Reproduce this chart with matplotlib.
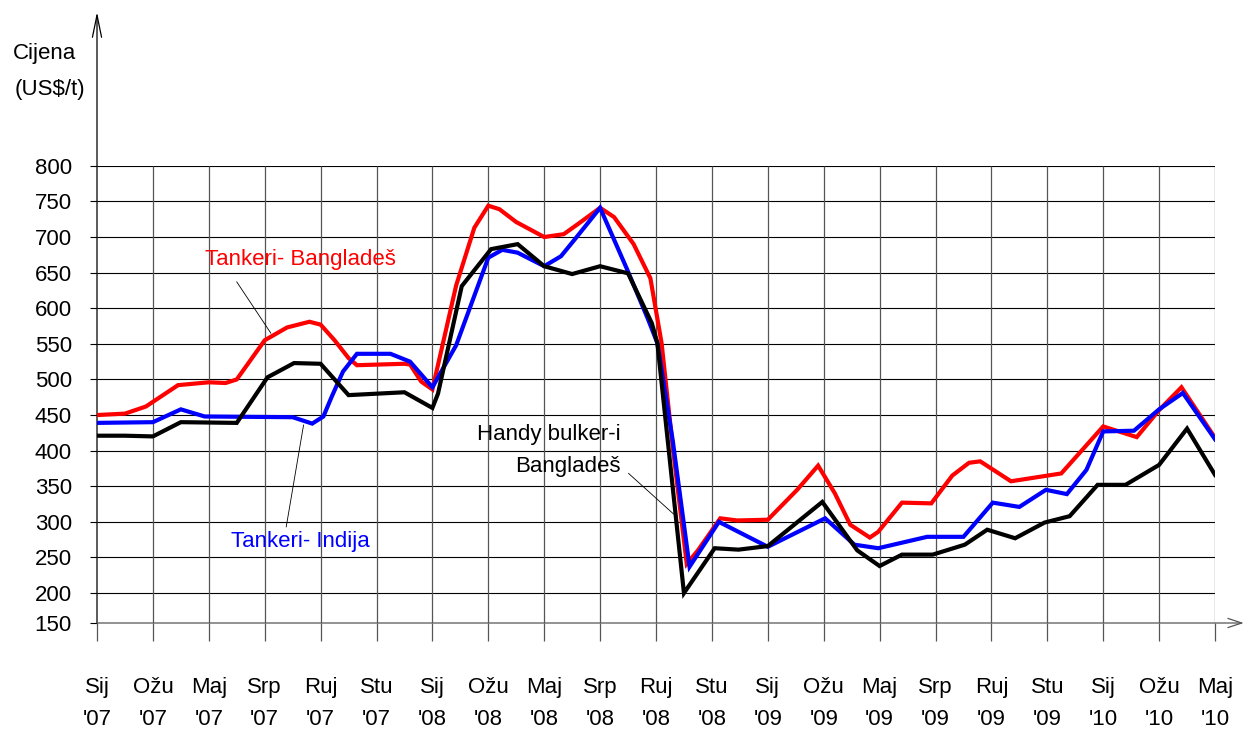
import matplotlib
matplotlib.use("Agg")
import matplotlib.pyplot as plt

plt.rcParams['font.family'] = ['Liberation Sans', 'DejaVu Sans']

# ---------------------------------------------------------------------------
# Data (x = months since Jan 2007, values in US$/t)
# ---------------------------------------------------------------------------
red_x = [0, 1, 1.75, 2.9, 4, 4.6, 5, 6, 6.8, 7.6, 8, 8.5, 9, 9.3, 11, 11.2, 11.6,
         12, 12.85, 13.5, 14, 14.4, 15, 16, 16.7, 17.2, 18, 18.5, 19.2, 19.8,
         20.2, 20.6, 21.1, 21.5, 22.3, 22.9, 24, 25.05, 25.8, 26.4, 26.95, 27.65,
         27.95, 28.8, 29.85, 30.6, 31.2, 31.6, 32.7, 34.5, 36, 37.2, 38, 38.8, 40]
red_y = [450, 452, 462, 492, 496, 495, 500, 555, 573, 581, 577, 555, 530, 520, 522, 521, 497,
         486, 632, 713, 744, 739, 721, 700, 704, 718, 741, 728, 690, 642,
         551, 405, 241, 260, 305, 302, 303, 345, 379, 340, 296, 278,
         286, 327, 326, 365, 383, 385, 357, 368, 434, 419, 457, 489, 418]

blue_x = [0, 2, 3, 3.85, 7, 7.7, 8.1, 8.4, 8.8, 9.3, 10.5, 11.2, 12, 12.85, 14,
          14.5, 15.05, 16, 16.6, 17.1, 18, 18.95, 19.7, 20.05, 20.6, 21.2, 22.25,
          24, 26.05, 27.1, 27.95, 29.7, 31, 32.05, 33, 33.95, 34.7, 35.4, 36,
          37.1, 38, 38.85, 40]
blue_y = [439, 440, 458, 448, 447, 438, 448, 476, 511, 536, 536, 525, 489, 548, 671,
          682, 678, 659, 673, 697, 741, 656, 586, 551, 414, 237, 300,
          265, 305, 268, 263, 279, 279, 327, 321, 345, 339, 373, 427,
          428, 458, 481, 416]

black_x = [0, 1, 2, 3, 5, 6.1, 7.05, 8, 9, 11, 12, 12.2, 13.05, 14.1, 15.05, 16,
           17, 18, 19, 19.85, 20.05, 21, 22.1, 22.95, 24, 25.95, 27.2, 28, 28.8,
           29.9, 31.05, 31.85, 32.85, 33.9, 34.8, 35.8, 36.8, 38, 39, 40]
black_y = [421, 421, 420, 440, 439, 503, 523, 522, 478, 482, 460, 480, 631, 683, 690, 659,
           648, 659, 649, 579, 551, 200, 263, 261, 266, 328, 260, 238, 254,
           254, 268, 289, 277, 299, 308, 352, 352, 380, 431, 366]

month_ticks = list(range(0, 41, 2))
month_names = ['Sij', 'Ožu', 'Maj', 'Srp', 'Ruj', 'Stu', 'Sij', 'Ožu', 'Maj', 'Srp', 'Ruj',
               'Stu', 'Sij', 'Ožu', 'Maj', 'Srp', 'Ruj', 'Stu', 'Sij', 'Ožu', 'Maj']
year_names = ["'07", "'07", "'07", "'07", "'07", "'07", "'08", "'08", "'08", "'08", "'08",
              "'08", "'09", "'09", "'09", "'09", "'09", "'09", "'10", "'10", "'10"]

y_grid = [200, 250, 300, 350, 400, 450, 500, 550, 600, 650, 700, 750, 800]
y_labels = ['150'] + [str(v) for v in y_grid]
y_bottom = 158   # axis line sits a little above 150 in the original

FS = 16

# ---------------------------------------------------------------------------
# Figure
# ---------------------------------------------------------------------------
W, H = 1244, 730
fig = plt.figure(figsize=(W / 100, H / 100), dpi=100)
ax = fig.add_axes([97 / W, (H - 623) / H, (1215 - 97) / W, (623 - 165.8) / H])
ax.set_xlim(0, 40)
ax.set_ylim(y_bottom, 800)
for s in ax.spines.values():
    s.set_visible(False)

# grid
ax.hlines(y_grid, 0, 40, color='black', lw=0.8, zorder=1)
ax.vlines(month_ticks[1:], y_bottom, 800, color='#555555', lw=0.9, zorder=1)

# axes with arrows
ax.annotate('', xy=(0, 1016), xytext=(0, y_bottom), annotation_clip=False,
            arrowprops=dict(arrowstyle='->,head_length=1.6,head_width=0.33',
                            mutation_scale=10, lw=0.9, color='black',
                            shrinkA=0, shrinkB=0))
ax.annotate('', xy=(41.03, y_bottom), xytext=(0, y_bottom), annotation_clip=False,
            arrowprops=dict(arrowstyle='->,head_length=1.0,head_width=0.33',
                            mutation_scale=10, lw=0.9, color='#555555',
                            shrinkA=0, shrinkB=0))

# series
ax.plot(red_x, red_y, color='#FF0000', lw=3, zorder=3, solid_joinstyle='miter')
ax.plot(blue_x, blue_y, color='#0000FF', lw=3, zorder=4, solid_joinstyle='miter')
ax.plot(black_x, black_y, color='black', lw=3, zorder=5, solid_joinstyle='miter')

# ticks
ax.set_xticks(month_ticks)
ax.set_xticklabels([f"{m}\n{y}" for m, y in zip(month_names, year_names)])
ax.tick_params(axis='x', length=13, width=0.9, color='#555555', pad=26, labelsize=FS)
for lbl in ax.get_xticklabels():
    lbl.set_linespacing(1.7)
ax.set_yticks([y_bottom] + y_grid)
ax.set_yticklabels(y_labels)
ax.tick_params(axis='y', length=5, width=0.8, color='black', pad=13, labelsize=FS)

# labels on series
ax.text(3.87, 669, 'Tankeri- Bangladeš', color='#FF0000', fontsize=FS, va='center', ha='left')
ax.plot([5.0, 6.22], [637, 565], color='black', lw=0.6, zorder=6)
ax.text(4.79, 273, 'Tankeri- Indija', color='#0000FF', fontsize=FS, va='center', ha='left')
ax.plot([7.39, 6.77], [436, 293], color='black', lw=0.6, zorder=6)
ax.text(18.73, 423, 'Handy bulker-i', color='black', fontsize=FS, va='center', ha='right')
ax.text(18.73, 378, 'Bangladeš', color='black', fontsize=FS, va='center', ha='right')
ax.plot([19.02, 20.63], [368, 311], color='black', lw=0.6, zorder=6)

# axis title
fig.text(13 / W, 1 - 53 / H, 'Cijena', fontsize=FS, ha='left', va='center')
fig.text(15 / W, 1 - 89 / H, '(US$/t)', fontsize=FS, ha='left', va='center')

fig.savefig('out.png', dpi=100)
